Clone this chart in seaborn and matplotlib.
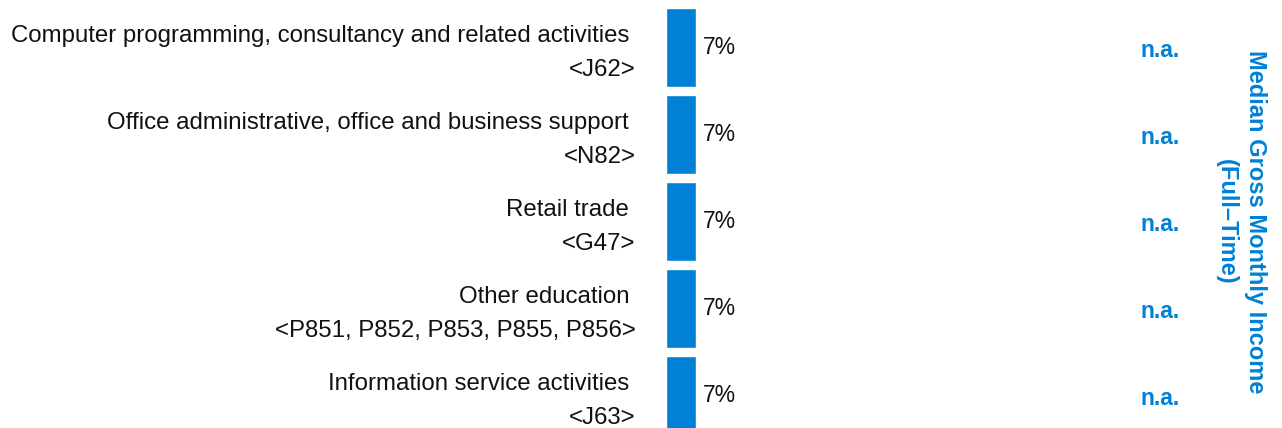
import matplotlib
matplotlib.use("Agg")
import matplotlib.pyplot as plt
import matplotlib.transforms as mtransforms
import seaborn as sns
import pandas as pd

categories = [
    "Computer programming, consultancy and related activities",
    "Office administrative, office and business support",
    "Retail trade",
    "Other education",
    "Information service activities",
]
codes = ["<J62>", "<N82>", "<G47>", "<P851, P852, P853, P855, P856>", "<J63>"]
values = [7, 7, 7, 7, 7]
income = ["n.a.", "n.a.", "n.a.", "n.a.", "n.a."]
title_lines = ["Median Gross Monthly Income", "(Full\u2013Time)"]

BLUE = "#0081D5"

sns.set_theme(style="white")
plt.rcParams["font.family"] = ["Liberation Sans", "DejaVu Sans"]

labels = [f"{c} \n{k}" for c, k in zip(categories, codes)]
df = pd.DataFrame({"label": labels, "value": values})

W, H = 1282, 428
fig = plt.figure(figsize=(W / 100, H / 100), dpi=100)
ax_w = 100 / 7 * 30
ax = fig.add_axes([665.5 / W, 1 - (4 + 435) / H, ax_w / W, 435 / H])

sns.barplot(data=df, x="value", y="label", orient="h", color=BLUE,
            saturation=1, width=0.91, ax=ax)
ax.set_xlim(0, 100)
ax.set_ylim(4.5, -0.5)
ax.set_xlabel("")
ax.set_ylabel("")
ax.set_xticks([])
for s in ax.spines.values():
    s.set_visible(False)
ax.tick_params(axis="y", length=0, pad=21.5, labelsize=17.3, labelcolor="#111111")
offset = mtransforms.ScaledTranslation(0, -4.2 / 72, fig.dpi_scale_trans)
for t in ax.get_yticklabels():
    t.set_linespacing(1.72)
    t.set_verticalalignment("center")
    t.set_transform(t.get_transform() + offset)

ax.bar_label(ax.containers[0], labels=[f"{v}%" for v in values],
             padding=5, fontsize=16.5, color="#111111")

trans = mtransforms.blended_transform_factory(fig.transFigure, ax.transData)
for i, txt in enumerate(income):
    ax.text(1160 / W, i + 0.03, txt, transform=trans, ha="center", va="center",
            fontsize=16.5, fontweight="bold", color=BLUE)

fig.text(1241 / W, 1 - 222 / H, "\n".join(title_lines), rotation=-90,
         ha="center", va="center", multialignment="center",
         fontsize=17, fontweight="bold", color=BLUE, linespacing=1.35)

fig.savefig("out.png", dpi=100)
